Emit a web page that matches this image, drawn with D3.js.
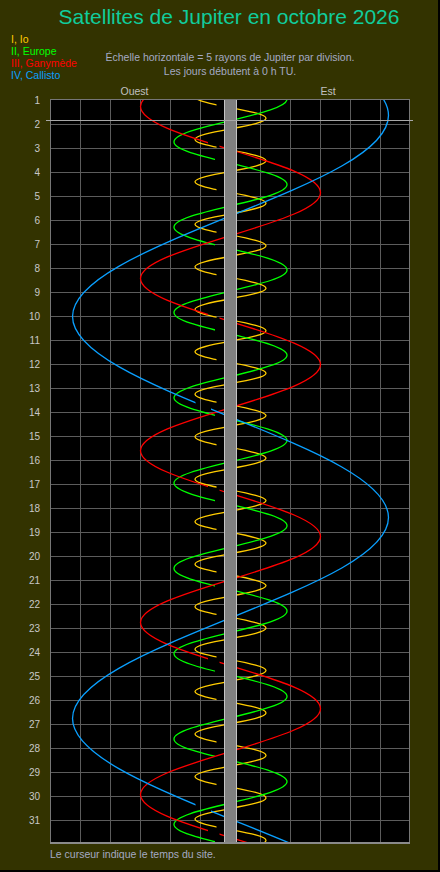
<!DOCTYPE html>
<html>
<head>
<meta charset="utf-8">
<script src="https://cdn.jsdelivr.net/npm/d3@7"></script>
<style>
  html, body { margin: 0; padding: 0; background: #333300; }
  svg { display: block; }
  text { font-family: "Liberation Sans", Arial, sans-serif; }
</style>
</head>
<body>
<div id="chart"></div>
<script>
// ---------------- DATA ----------------
// Days of October (labels)
const days = d3.range(1, 32);

// Satellite names and colours
const satNames = ["I, Io", "II, Europe", "III, Ganymède", "IV, Callisto"];
const satColors = ["#ffcc00", "#00ff00", "#ff0000", "#0aa0ff"];

// Positions [day of October (0 h TU), offset from Jupiter centre in Jupiter radii (+ = Est)]
const ioPoints = [
  [-0.03,5.92],[0.19,4.19],[0.41,0],[0.63,-4.19],[0.85,-5.92],[1.07,-4.19],[1.30,0],[1.52,4.19],
  [1.74,5.92],[1.96,4.19],[2.18,0],[2.40,-4.19],[2.62,-5.92],[2.84,-4.19],[3.06,0],[3.29,4.19],
  [3.51,5.92],[3.73,4.19],[3.95,0],[4.17,-4.19],[4.39,-5.92],[4.61,-4.19],[4.83,0],[5.06,4.19],
  [5.28,5.92],[5.50,4.19],[5.72,0],[5.94,-4.19],[6.16,-5.92],[6.38,-4.19],[6.60,0],[6.83,4.19],
  [7.05,5.92],[7.27,4.19],[7.49,0],[7.71,-4.19],[7.93,-5.92],[8.15,-4.19],[8.37,0],[8.60,4.19],
  [8.82,5.92],[9.04,4.19],[9.26,0],[9.48,-4.19],[9.70,-5.92],[9.92,-4.19],[10.14,0],[10.37,4.19],
  [10.59,5.92],[10.81,4.19],[11.03,0],[11.25,-4.19],[11.47,-5.92],[11.69,-4.19],[11.91,0],[12.14,4.19],
  [12.36,5.92],[12.58,4.19],[12.80,0],[13.02,-4.19],[13.24,-5.92],[13.46,-4.19],[13.68,0],[13.91,4.19],
  [14.13,5.92],[14.35,4.19],[14.57,0],[14.79,-4.19],[15.01,-5.92],[15.23,-4.19],[15.45,0],[15.68,4.19],
  [15.90,5.92],[16.12,4.19],[16.34,0],[16.56,-4.19],[16.78,-5.92],[17.00,-4.19],[17.22,0],[17.45,4.19],
  [17.67,5.92],[17.89,4.19],[18.11,0],[18.33,-4.19],[18.55,-5.92],[18.77,-4.19],[18.99,0],[19.22,4.19],
  [19.44,5.92],[19.66,4.19],[19.88,0],[20.10,-4.19],[20.32,-5.92],[20.54,-4.19],[20.76,0],[20.99,4.19],
  [21.21,5.92],[21.43,4.19],[21.65,0],[21.87,-4.19],[22.09,-5.92],[22.31,-4.19],[22.53,0],[22.76,4.19],
  [22.98,5.92],[23.20,4.19],[23.42,0],[23.64,-4.19],[23.86,-5.92],[24.08,-4.19],[24.30,0],[24.53,4.19],
  [24.75,5.92],[24.97,4.19],[25.19,0],[25.41,-4.19],[25.63,-5.92],[25.85,-4.19],[26.07,0],[26.29,4.19],
  [26.52,5.92],[26.74,4.19],[26.96,0],[27.18,-4.19],[27.40,-5.92],[27.62,-4.19],[27.84,0],[28.06,4.19],
  [28.29,5.92],[28.51,4.19],[28.73,0],[28.95,-4.19],[29.17,-5.92],[29.39,-4.19],[29.61,0],[29.83,4.19],
  [30.06,5.92],[30.28,4.19],[30.50,0],[30.72,-4.19],[30.94,-5.92],[31.16,-4.19],[31.38,0],[31.60,4.19],
  [31.83,5.92],[32.05,4.19],[32.27,0]
];

const europaPoints = [
  [-0.38,-6.66],[0.06,0],[0.50,6.66],
  [0.95,9.42],[1.39,6.66],[1.84,0],[2.28,-6.66],[2.73,-9.42],[3.17,-6.66],[3.61,0],[4.06,6.66],
  [4.50,9.42],[4.95,6.66],[5.39,0],[5.83,-6.66],[6.28,-9.42],[6.72,-6.66],[7.17,0],[7.61,6.66],
  [8.06,9.42],[8.50,6.66],[8.94,0],[9.39,-6.66],[9.83,-9.42],[10.28,-6.66],[10.72,0],[11.17,6.66],
  [11.61,9.42],[12.05,6.66],[12.50,0],[12.94,-6.66],[13.39,-9.42],[13.83,-6.66],[14.28,0],[14.72,6.66],
  [15.16,9.42],[15.61,6.66],[16.05,0],[16.50,-6.66],[16.94,-9.42],[17.39,-6.66],[17.83,0],[18.27,6.66],
  [18.72,9.42],[19.16,6.66],[19.61,0],[20.05,-6.66],[20.50,-9.42],[20.94,-6.66],[21.38,0],[21.83,6.66],
  [22.27,9.42],[22.72,6.66],[23.16,0],[23.61,-6.66],[24.05,-9.42],[24.49,-6.66],[24.94,0],[25.38,6.66],
  [25.83,9.42],[26.27,6.66],[26.72,0],[27.16,-6.66],[27.60,-9.42],[28.05,-6.66],[28.49,0],[28.94,6.66],
  [29.38,9.42],[29.83,6.66],[30.27,0],[30.71,-6.66],[31.16,-9.42],[31.60,-6.66],[32.05,0],[32.49,6.66]
];

const ganymedePoints = [
  [-1.43,10.6],[-0.54,0],[0.36,-10.6],[1.25,-15.0],[2.15,-10.6],[3.05,0],[3.94,10.6],
  [4.84,15.0],[5.73,10.6],[6.63,0],[7.53,-10.6],[8.42,-15.0],[9.32,-10.6],[10.21,0],[11.11,10.6],
  [12.00,15.0],[12.90,10.6],[13.80,0],[14.69,-10.6],[15.59,-15.0],[16.48,-10.6],[17.38,0],[18.27,10.6],
  [19.17,15.0],[20.07,10.6],[20.96,0],[21.86,-10.6],[22.75,-15.0],[23.65,-10.6],[24.55,0],[25.44,10.6],
  [26.34,15.0],[27.23,10.6],[28.13,0],[29.02,-10.6],[29.92,-15.0],[30.82,-10.6],[31.71,0],[32.61,10.6],
  [33.50,15.0]
];

const callistoPoints = [
  [-4.66,-18.62],[-2.56,0],[-0.47,18.62],[1.63,26.33],[3.72,18.62],[5.81,0],[7.91,-18.62],
  [10.00,-26.33],[12.09,-18.62],[14.19,0],[16.28,18.62],[18.38,26.33],[20.47,18.62],[22.56,0],
  [24.66,-18.62],[26.75,-26.33],[28.84,-18.62],[30.94,0],[33.03,18.62],[35.13,26.33]
];

// Zone (Jupiter radii, west of centre) where each satellite vanishes in the shadow
const shadowZones = [[-2.33,-1.0],[-2.58,-1.0],[-3.75,-1.83],[-5.83,-3.25]];

// Cursor time (day of October)
const cursorDay = 1.83;

// ---------------- DRAWING ----------------
const W = 440, H = 872;
const svg = d3.select("#chart").append("svg").attr("width", W).attr("height", H);

const x = d3.scaleLinear().domain([-30, 30]).range([50.5, 410.5]);
const y = d3.scaleLinear().domain([1, 32]).range([100.5, 844.5]);

const plot = { left: 50, top: 99, right: 410, bottom: 844 };

svg.append("rect").attr("width", W).attr("height", H).attr("fill", "#333300");
// dark bevel edges
svg.append("rect").attr("x", W - 2).attr("y", 0).attr("width", 2).attr("height", H).attr("fill", "#000");
svg.append("rect").attr("x", 0).attr("y", H - 2).attr("width", W).attr("height", 2).attr("fill", "#000");

svg.append("rect").attr("x", plot.left).attr("y", plot.top)
  .attr("width", plot.right - plot.left).attr("height", plot.bottom - plot.top).attr("fill", "#000");

const defs = svg.append("defs");
defs.append("clipPath").attr("id", "plotclip").append("rect")
  .attr("x", plot.left + 1).attr("y", plot.top + 1)
  .attr("width", plot.right - plot.left - 2).attr("height", plot.bottom - plot.top - 2);

// grid
const grid = svg.append("g").attr("stroke", "#5c5c5c").attr("stroke-width", 1).attr("shape-rendering", "crispEdges");
grid.selectAll("line.v").data(x.ticks(12).filter(d => d > -30 && d < 30)).join("line")
  .attr("x1", d => x(d)).attr("x2", d => x(d)).attr("y1", plot.top).attr("y2", plot.bottom);
grid.selectAll("line.h").data(days.filter(d => d > 1)).join("line")
  .attr("y1", d => y(d)).attr("y2", d => y(d)).attr("x1", plot.left).attr("x2", plot.right);

// satellites
const allPoints = [ioPoints, europaPoints, ganymedePoints, callistoPoints];
const line = d3.line().x(d => x(d[1])).y(d => y(d[0])).curve(d3.curveNatural);

const curves = svg.append("g").attr("clip-path", "url(#plotclip)");
allPoints.forEach((pts, s) => {
  const m = defs.append("mask").attr("id", "mask" + s)
    .attr("maskUnits", "userSpaceOnUse").attr("x", 0).attr("y", 0).attr("width", W).attr("height", H);
  m.append("rect").attr("x", 0).attr("y", 0).attr("width", W).attr("height", H).attr("fill", "#fff");
  const z = shadowZones[s];
  pts.forEach((p, i) => {
    if (i > 0 && i < pts.length - 1 && p[1] === 0 && pts[i + 1][1] > 0) {
      const y0 = y(pts[i - 1][0]), y1 = y(p[0]);
      m.append("rect").attr("x", x(z[0])).attr("y", y0)
        .attr("width", x(z[1]) - x(z[0])).attr("height", y1 - y0).attr("fill", "#000");
    }
  });
  curves.append("path").datum(pts)
    .attr("d", line)
    .attr("fill", "none")
    .attr("stroke", satColors[s])
    .attr("stroke-width", 1.3)
    .attr("mask", "url(#mask" + s + ")");
});

// Jupiter disk
svg.append("rect").attr("x", x(-1) - 0.5).attr("y", plot.top)
  .attr("width", x(1) - x(-1) + 1).attr("height", plot.bottom - plot.top)
  .attr("fill", "#808080");
svg.append("g").attr("stroke", "#c4c4c4").attr("shape-rendering", "crispEdges")
  .selectAll("line").data([-1, 1]).join("line")
  .attr("x1", d => x(d)).attr("x2", d => x(d)).attr("y1", plot.top).attr("y2", plot.bottom);

// frame
const frame = svg.append("g").attr("stroke", "#767676").attr("shape-rendering", "crispEdges");
frame.append("line").attr("x1", plot.left).attr("x2", plot.right).attr("y1", plot.top + 0.5).attr("y2", plot.top + 0.5);
frame.append("line").attr("x1", plot.left + 0.5).attr("x2", plot.left + 0.5).attr("y1", plot.top).attr("y2", plot.bottom);
frame.append("line").attr("x1", plot.right - 0.5).attr("x2", plot.right - 0.5).attr("y1", plot.top).attr("y2", plot.bottom);
frame.append("line").attr("x1", plot.left).attr("x2", plot.right).attr("y1", plot.bottom - 1).attr("y2", plot.bottom - 1)
  .attr("stroke", "#8a8a8a").attr("stroke-width", 2);

// cursor
svg.append("line").attr("x1", 46).attr("x2", 413)
  .attr("y1", Math.round(y(cursorDay)) + 0.5).attr("y2", Math.round(y(cursorDay)) + 0.5)
  .attr("stroke", "#a8a8a8").attr("stroke-width", 1).attr("shape-rendering", "crispEdges");

// day labels (axis)
const axis = d3.axisLeft(y).tickValues(days).tickSize(0).tickPadding(10).tickFormat(d3.format("d"));
const ag = svg.append("g").attr("transform", `translate(${plot.left},0)`).call(axis);
ag.select(".domain").remove();
ag.selectAll("text").attr("fill", "#c8c8c8").style("font-size", "10px")
  .style("font-family", '"Liberation Sans", Arial, sans-serif');

// title
svg.append("text").attr("x", 229).attr("y", 24).attr("text-anchor", "middle")
  .attr("fill", "#10cc9c").style("font-size", "21px").text("Satellites de Jupiter en octobre 2026");

// legend
svg.append("g").selectAll("text").data(satNames).join("text")
  .attr("x", 11).attr("y", (d, i) => 43 + i * 12)
  .attr("fill", (d, i) => satColors[i]).style("font-size", "10.5px").text(d => d);

// notes
svg.append("text").attr("x", 230).attr("y", 61).attr("text-anchor", "middle")
  .attr("fill", "#a4aac4").style("font-size", "10.5px")
  .text("Échelle horizontale = 5 rayons de Jupiter par division.");
svg.append("text").attr("x", 230).attr("y", 75).attr("text-anchor", "middle")
  .attr("fill", "#a4aac4").style("font-size", "10.5px")
  .text("Les jours débutent à 0 h TU.");

svg.append("text").attr("x", x(-16)).attr("y", 95).attr("text-anchor", "middle")
  .attr("fill", "#c0c0c0").style("font-size", "10.5px").text("Ouest");
svg.append("text").attr("x", x(16.25)).attr("y", 95).attr("text-anchor", "middle")
  .attr("fill", "#c0c0c0").style("font-size", "10.5px").text("Est");

svg.append("text").attr("x", 50).attr("y", 858)
  .attr("fill", "#a4aac4").style("font-size", "10.5px")
  .text("Le curseur indique le temps du site.");
</script>
</body>
</html>
